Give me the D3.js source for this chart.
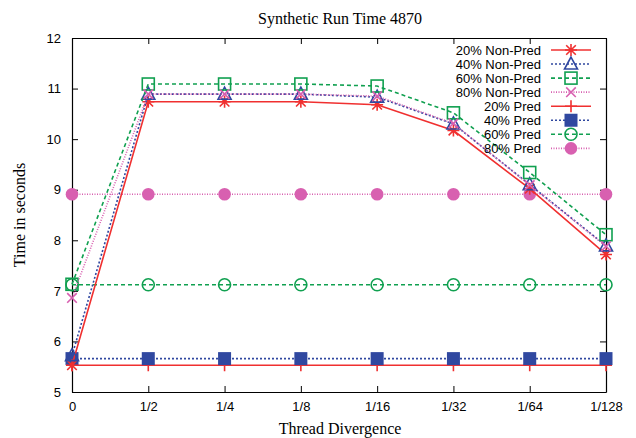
<!DOCTYPE html>
<html>
<head>
<meta charset="utf-8">
<script src="https://d3js.org/d3.v7.min.js"></script>
<style>
body { margin: 0; background: #fff; }
</style>
</head>
<body>
<svg id="chart"></svg>
<script>
// data
var categories = ["0", "1/2", "1/4", "1/8", "1/16", "1/32", "1/64", "1/128"];
var yTicks = [5, 6, 7, 8, 9, 10, 11, 12];
var seriesNames = ["20% Non-Pred", "40% Non-Pred", "60% Non-Pred", "80% Non-Pred",
                   "20% Pred", "40% Pred", "60% Pred", "80% Pred"];
var nonPred20 = [5.53, 10.74, 10.74, 10.74, 10.68, 10.17, 9.02, 7.72];
var nonPred40 = [5.72, 10.89, 10.89, 10.89, 10.83, 10.30, 9.10, 7.89];
var nonPred60 = [7.13, 11.09, 11.09, 11.09, 11.05, 10.52, 9.34, 8.11];
var nonPred80 = [6.86, 10.89, 10.89, 10.89, 10.85, 10.31, 9.09, 7.88];
var pred20 = [5.53, 5.53, 5.53, 5.53, 5.53, 5.53, 5.53, 5.53];
var pred40 = [5.66, 5.66, 5.66, 5.66, 5.66, 5.66, 5.66, 5.66];
var pred60 = [7.12, 7.12, 7.12, 7.12, 7.12, 7.12, 7.12, 7.12];
var pred80 = [8.91, 8.91, 8.91, 8.91, 8.91, 8.91, 8.91, 8.91];

var red = "#f03030", blue = "#3048a0", green = "#10a050", pink = "#d860b0";
var series = [
    {name: seriesNames[0], values: nonPred20, color: red,   dash: null,    marker: "star"},
    {name: seriesNames[1], values: nonPred40, color: blue,  dash: "2,2",   marker: "triangle"},
    {name: seriesNames[2], values: nonPred60, color: green, dash: "4,3",   marker: "square"},
    {name: seriesNames[3], values: nonPred80, color: pink,  dash: "1,1.5", marker: "cross"},
    {name: seriesNames[4], values: pred20,    color: red,   dash: null,    marker: "plus"},
    {name: seriesNames[5], values: pred40,    color: blue,  dash: "2,2",   marker: "fsquare"},
    {name: seriesNames[6], values: pred60,    color: green, dash: "4,3",   marker: "circle"},
    {name: seriesNames[7], values: pred80,    color: pink,  dash: "1,1.5", marker: "fcircle"}
];

// layout
var W = 636, H = 438;
var margin = {top: 38, right: 30, bottom: 46, left: 72};
var width = W - margin.left - margin.right,
    height = H - margin.top - margin.bottom;

var svg = d3.select("#chart").attr("width", W).attr("height", H);
var g = svg.append("g").attr("transform", "translate(" + margin.left + "," + margin.top + ")");

var x = d3.scalePoint().domain(categories).range([0, width]);
var y = d3.scaleLinear().domain([5, 12]).range([height, 0]);

// axes (ticks inward, mirrored)
var sans = "'Liberation Sans', Arial, sans-serif";
var serif = "'Liberation Serif', 'Times New Roman', serif";

var xAxis = g.append("g").attr("transform", "translate(0," + height + ")")
    .call(d3.axisBottom(x).tickSizeInner(-6).tickSizeOuter(0).tickPadding(10));
var xTop = g.append("g")
    .call(d3.axisTop(x).tickSizeInner(-6).tickSizeOuter(0).tickFormat(""));
var yAxis = g.append("g")
    .call(d3.axisLeft(y).tickValues(yTicks).tickFormat(d3.format("d")).tickSizeInner(-6).tickSizeOuter(0).tickPadding(11));
var yRight = g.append("g").attr("transform", "translate(" + width + ",0)")
    .call(d3.axisRight(y).tickValues(yTicks).tickSizeInner(-6).tickSizeOuter(0).tickFormat(""));
[xAxis, xTop, yAxis, yRight].forEach(function (a) {
    a.select(".domain").attr("stroke", "#000").attr("stroke-width", 1.2);
    a.selectAll(".tick line").attr("stroke", "#000");
    a.selectAll("text").style("font-family", sans).style("font-size", "13px").attr("fill", "#000");
});

// lines
var line = d3.line()
    .x(function (d, i) { return x(categories[i]); })
    .y(function (d) { return y(d); });

function drawMarker(sel, type, color) {
    var s = 6;
    if (type == "star" || type == "plus" || type == "cross") {
        var p = "";
        if (type != "cross") p += "M" + (-s) + ",0L" + s + ",0M0," + (-s) + "L0," + s;
        if (type != "plus") p += "M" + (-s * 0.8) + "," + (-s * 0.8) + "L" + (s * 0.8) + "," + (s * 0.8) +
                                 "M" + (-s * 0.8) + "," + (s * 0.8) + "L" + (s * 0.8) + "," + (-s * 0.8);
        sel.append("path").attr("d", p).attr("stroke", color).attr("stroke-width", 1.6).attr("fill", "none");
    } else if (type == "triangle") {
        sel.append("path").attr("d", "M0,-7L6.5,5L-6.5,5Z")
            .attr("stroke", color).attr("stroke-width", 1.6).attr("fill", "none");
    } else if (type == "square") {
        sel.append("rect").attr("x", -6).attr("y", -6).attr("width", 12).attr("height", 12)
            .attr("stroke", color).attr("stroke-width", 1.6).attr("fill", "none");
    } else if (type == "fsquare") {
        sel.append("rect").attr("x", -6.5).attr("y", -6.5).attr("width", 13).attr("height", 13)
            .attr("fill", color);
    } else if (type == "circle") {
        sel.append("circle").attr("r", 6)
            .attr("stroke", color).attr("stroke-width", 1.6).attr("fill", "none");
    } else if (type == "fcircle") {
        sel.append("circle").attr("r", 6.3).attr("fill", color);
    }
}

// draw pred series first so non-pred sit on top, like the reference
var order = [4, 5, 6, 7, 0, 1, 2, 3];
order.forEach(function (k) {
    var s = series[k];
    g.append("path")
        .datum(s.values)
        .attr("d", line)
        .attr("fill", "none")
        .attr("stroke", s.color)
        .attr("stroke-width", 1.6)
        .attr("stroke-dasharray", s.dash);
    g.selectAll(".pt" + k)
        .data(s.values)
        .enter()
        .append("g")
        .attr("class", "pt" + k)
        .attr("transform", function (d, i) {
            return "translate(" + x(categories[i]) + "," + y(d) + ")";
        })
        .each(function () { drawMarker(d3.select(this), s.marker, s.color); });
});

// legend
var legend = svg.append("g");
series.forEach(function (s, i) {
    var ly = 50 + i * 14.05;
    legend.append("text")
        .attr("x", 541).attr("y", ly + 4.5)
        .attr("text-anchor", "end")
        .style("font-family", sans).style("font-size", "13px")
        .text(s.name);
    legend.append("line")
        .attr("x1", 551).attr("x2", 591).attr("y1", ly).attr("y2", ly)
        .attr("stroke", s.color).attr("stroke-width", 1.6)
        .attr("stroke-dasharray", s.dash);
    var m = legend.append("g").attr("transform", "translate(571," + ly + ")");
    drawMarker(m, s.marker, s.color);
});

// titles
svg.append("text")
    .attr("x", 340).attr("y", 24)
    .attr("text-anchor", "middle")
    .style("font-family", serif).style("font-size", "16px")
    .text("Synthetic Run Time 4870");
svg.append("text")
    .attr("x", 340).attr("y", 434)
    .attr("text-anchor", "middle")
    .style("font-family", serif).style("font-size", "16px")
    .text("Thread Divergence");
svg.append("text")
    .attr("transform", "translate(25," + (margin.top + height / 2) + ") rotate(-90)")
    .attr("text-anchor", "middle")
    .style("font-family", serif).style("font-size", "16px")
    .text("Time in seconds");
</script>
</body>
</html>
